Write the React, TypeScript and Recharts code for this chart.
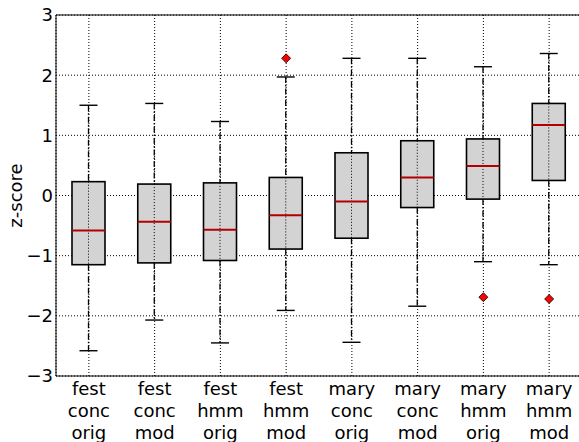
import React from 'react';
import { ComposedChart, Bar, Scatter, XAxis, YAxis, CartesianGrid, ReferenceLine } from 'recharts';

const categories = [
  'fest conc orig', 'fest conc mod', 'fest hmm orig', 'fest hmm mod',
  'mary conc orig', 'mary conc mod', 'mary hmm orig', 'mary hmm mod',
];
const whiskerLow = [-2.58, -2.07, -2.45, -1.91, -2.44, -1.84, -1.1, -1.15];
const q1 = [-1.15, -1.12, -1.08, -0.89, -0.71, -0.2, -0.06, 0.25];
const medians = [-0.58, -0.435, -0.57, -0.33, -0.1, 0.3, 0.49, 1.17];
const q3 = [0.23, 0.19, 0.21, 0.3, 0.71, 0.91, 0.94, 1.53];
const whiskerHigh = [1.5, 1.53, 1.23, 1.97, 2.28, 2.28, 2.14, 2.36];
const outliers: (number | null)[] = [null, null, null, 2.28, null, null, -1.69, -1.72];
const yTicks = [-3, -2, -1, 0, 1, 2, 3];

const data = categories.map((name, i) => ({
  name,
  range: [whiskerLow[i], whiskerHigh[i]],
  lo: whiskerLow[i],
  q1: q1[i],
  med: medians[i],
  q3: q3[i],
  hi: whiskerHigh[i],
  outlier: outliers[i],
}));

const FONT = 'DejaVu Sans';

const BoxShape = (props: any) => {
  const { x, y, width, height, payload } = props;
  if (!payload) return <g />;
  const top = Math.min(y, y + height);
  const bottom = Math.max(y, y + height);
  const hi = payload.hi;
  const lo = payload.lo;
  const py = (v: number) => top + ((hi - v) / (hi - lo)) * (bottom - top);
  const cx = x + width / 2;
  const yq3 = py(payload.q3);
  const yq1 = py(payload.q1);
  const ym = py(payload.med);
  const capHalf = 9;
  const dash = '6 2 1.5 2';
  return (
    <g>
      <line x1={cx} x2={cx} y1={py(hi)} y2={yq3} stroke="#000" strokeWidth={1.3} strokeDasharray={dash} />
      <line x1={cx} x2={cx} y1={yq1} y2={py(lo)} stroke="#000" strokeWidth={1.3} strokeDasharray={dash} />
      <line x1={cx - capHalf} x2={cx + capHalf} y1={py(hi)} y2={py(hi)} stroke="#000" strokeWidth={1.4} />
      <line x1={cx - capHalf} x2={cx + capHalf} y1={py(lo)} y2={py(lo)} stroke="#000" strokeWidth={1.4} />
      <rect x={x} y={yq3} width={width} height={yq1 - yq3} fill="#d3d3d3" stroke="#000" strokeWidth={1.6} />
      <line x1={cx} x2={cx} y1={yq3} y2={yq1} stroke="#000" strokeWidth={1} strokeDasharray="1 2" />
      <line x1={x} x2={x + width} y1={ym} y2={ym} stroke="#b20000" strokeWidth={2} />
    </g>
  );
};

const Diamond = (props: any) => {
  const { cx, cy, payload } = props;
  if (!payload || payload.outlier == null || cx == null || cy == null || isNaN(cy)) return <g />;
  const r = 4.5;
  return (
    <polygon
      points={`${cx},${cy - r} ${cx + r},${cy} ${cx},${cy + r} ${cx - r},${cy}`}
      fill="#ff0000"
      stroke="#000"
      strokeWidth={0.8}
    />
  );
};

const XTick = (props: any) => {
  const { x, y, payload } = props;
  const lines = String(payload.value).split(' ');
  return (
    <text x={x} y={y} textAnchor="middle" fontSize={18} fontFamily={FONT} fill="#000">
      {lines.map((l, i) => (
        <tspan key={i} x={x} dy={i === 0 ? 19 : 22}>
          {l}
        </tspan>
      ))}
    </text>
  );
};

const YLabel = () => (
  <g opacity={0.99}>
    <text
      x={22}
      y={195.5}
      transform="rotate(-90 22 195.5)"
      textAnchor="middle"
      fontSize={18}
      fontFamily={FONT}
      fill="#000"
      stroke="none"
    >
      z-score
    </text>
  </g>
);

const fmt = (v: number) => (v < 0 ? '\u2212' + Math.abs(v) : String(v));

export default function App() {
  return (
    <div style={{ position: 'absolute', left: 0, top: 0, width: 579, height: 442, overflow: 'hidden', background: '#fff' }}>
      <ComposedChart width={582} height={442} data={data} margin={{ top: 15, right: 0, bottom: 0, left: 0 }}>
        <CartesianGrid stroke="#000" strokeDasharray="1 2" strokeWidth={1} />
        <XAxis
          dataKey="name"
          height={66}
          tick={<XTick />}
          tickLine={false}
          tickSize={0}
          tickMargin={0}
          interval={0}
          axisLine={{ stroke: '#000', strokeWidth: 1 }}
        />
        <YAxis
          type="number"
          domain={[-3, 3]}
          ticks={yTicks}
          width={56}
          tickFormatter={fmt}
          tickLine={false}
          tickSize={0}
          tickMargin={3}
          axisLine={{ stroke: '#000', strokeWidth: 1 }}
          tick={{ fill: '#000', fontSize: 18, fontFamily: FONT }}
          label={{ content: () => <YLabel /> }}
        />
        <ReferenceLine y={3} stroke="#000" strokeWidth={1} />
        <Bar dataKey="range" barSize={33} shape={<BoxShape />} isAnimationActive={false} />
        <Scatter dataKey="outlier" shape={<Diamond />} isAnimationActive={false} />
      </ComposedChart>
    </div>
  );
}
